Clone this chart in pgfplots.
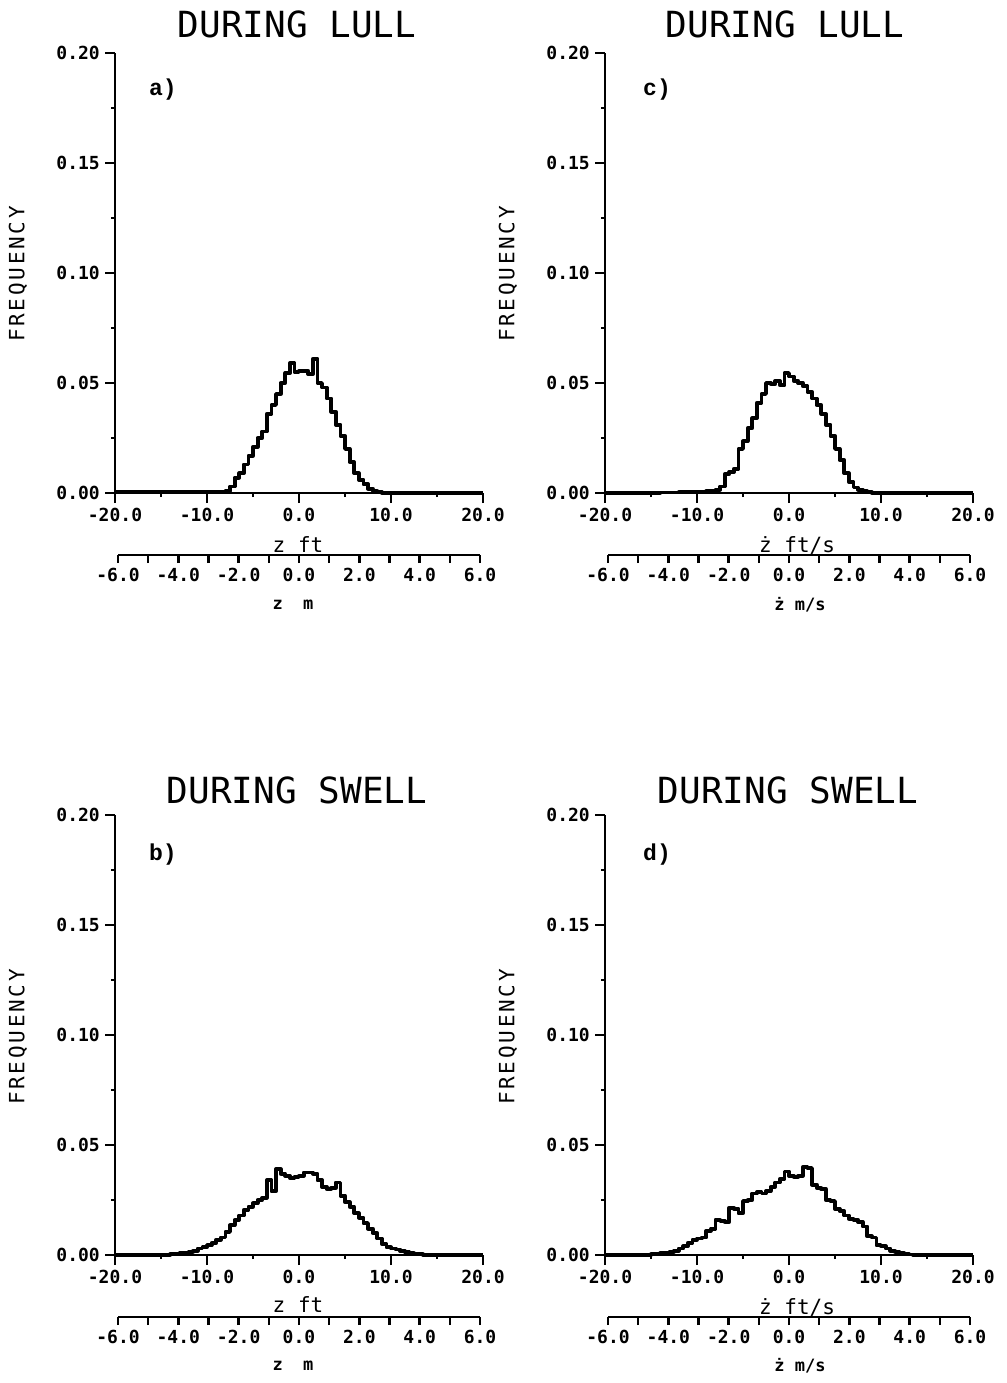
\documentclass[border=0pt]{standalone}
\usepackage{pgfplots}
\pgfplotsset{compat=1.18}
\usepackage{fontspec}
\setmainfont{DejaVu Sans Mono}
\newfontfamily\labelfont{Liberation Mono}

% Frequency histograms, 0.5 ft bins (left bin edge, relative frequency)
\pgfplotstableread{
x y
-20 0.0003
-8 0.001
-7.5 0.003
-7 0.007
-6.5 0.009
-6 0.013
-5.5 0.017
-5 0.021
-4.5 0.025
-4 0.028
-3.5 0.036
-3 0.040
-2.5 0.045
-2 0.050
-1.5 0.0545
-1 0.059
-0.5 0.055
0 0.0555
0.5 0.0555
1 0.054
1.5 0.061
2 0.050
2.5 0.048
3 0.043
3.5 0.037
4 0.031
4.5 0.026
5 0.020
5.5 0.014
6 0.009
6.5 0.006
7 0.004
7.5 0.002
8 0.001
8.5 0.0004
9 0
20 0
}\lullz

\pgfplotstableread{
x y
-20 0
-14 0.0002
-12 0.0004
-10 0.0006
-9 0.0008
-8.5 0.001
-8 0.0015
-7.5 0.003
-7 0.0085
-6.5 0.0095
-6 0.011
-5.5 0.020
-5 0.0235
-4.5 0.0295
-4 0.034
-3.5 0.041
-3 0.045
-2.5 0.050
-2 0.0495
-1.5 0.051
-1 0.049
-0.5 0.0545
0 0.053
0.5 0.051
1 0.050
1.5 0.0485
2 0.046
2.5 0.043
3 0.040
3.5 0.036
4 0.031
4.5 0.026
5 0.020
5.5 0.015
6 0.009
6.5 0.005
7 0.0025
7.5 0.0015
8 0.0008
8.5 0.0003
9 0
20 0
}\lullzdot

\pgfplotstableread{
x y
-20 0
-14 0.0003
-13.5 0.0005
-13 0.0008
-12.5 0.001
-12 0.0015
-11.5 0.002
-11 0.003
-10.5 0.0035
-10 0.0045
-9.5 0.0055
-9 0.007
-8.5 0.008
-8 0.0105
-7.5 0.0135
-7 0.016
-6.5 0.018
-6 0.0205
-5.5 0.022
-5 0.0235
-4.5 0.025
-4 0.026
-3.5 0.034
-3 0.029
-2.5 0.039
-2 0.037
-1.5 0.036
-1 0.035
-0.5 0.0355
0 0.036
0.5 0.0375
1 0.0375
1.5 0.037
2 0.034
2.5 0.031
3 0.030
3.5 0.0305
4 0.033
4.5 0.027
5 0.024
5.5 0.022
6 0.019
6.5 0.017
7 0.0145
7.5 0.012
8 0.010
8.5 0.0075
9 0.005
9.5 0.0035
10 0.003
10.5 0.0025
11 0.0018
11.5 0.0012
12 0.0008
12.5 0.0005
13 0.0003
13.5 0
20 0
}\swellz

\pgfplotstableread{
x y
-20 0
-15 0.0003
-14.5 0.0005
-14 0.0008
-13.5 0.001
-13 0.0015
-12.5 0.002
-12 0.003
-11.5 0.004
-11 0.0055
-10.5 0.007
-10 0.0075
-9.5 0.008
-9 0.011
-8.5 0.012
-8 0.016
-7.5 0.0155
-7 0.015
-6.5 0.0215
-6 0.021
-5.5 0.019
-5 0.0245
-4.5 0.025
-4 0.028
-3.5 0.0285
-3 0.028
-2.5 0.029
-2 0.031
-1.5 0.033
-1 0.0345
-0.5 0.038
0 0.036
0.5 0.0355
1 0.036
1.5 0.040
2 0.0395
2.5 0.032
3 0.0305
3.5 0.030
4 0.025
4.5 0.0245
5 0.021
5.5 0.020
6 0.018
6.5 0.0165
7 0.016
7.5 0.015
8 0.013
8.5 0.0085
9 0.008
9.5 0.0045
10 0.004
10.5 0.003
11 0.002
11.5 0.0015
12 0.001
12.5 0.0005
13 0.0002
13.5 0
20 0
}\swellzdot

\pgfplotsset{
  histaxis/.style={
    scale only axis, width=368pt, height=440pt,
    xmin=-20, xmax=20, ymin=0, ymax=0.2,
    axis x line=bottom, axis y line=left,
    axis line style={line width=2.8pt, -},
    xtick={-20,-10,0,10,20},
    xticklabels={-20.0,-10.0,0.0,10.0,20.0},
    minor xtick={-15,-5,5,15},
    ytick={0,0.05,0.1,0.15,0.2},
    yticklabels={0.00,0.05,0.10,0.15,0.20},
    minor ytick={0.025,0.075,0.125,0.175},
    tick align=outside, major tick length=10pt, minor tick length=4pt,
    every tick/.style={line width=2.5pt, black},
    tick label style={font=\fontsize{18}{18}\selectfont\bfseries, inner sep=0pt},
    xticklabel style={anchor=north, yshift=-5pt},
    yticklabel style={anchor=east, xshift=-5pt},
    clip=false,
  },
  maxis/.style={
    scale only axis, width=362pt, height=1pt,
    xmin=-6, xmax=6, ymin=0, ymax=1,
    axis x line=bottom, axis y line=none,
    axis line style={line width=2.8pt, -},
    xtick={-6,-5,...,6},
    xticklabels={-6.0,,-4.0,,-2.0,,0.0,,2.0,,4.0,,6.0},
    tick align=outside, major tick length=8pt,
    every tick/.style={line width=2.5pt, black},
    tick label style={font=\fontsize{18}{18}\selectfont\bfseries, inner sep=0pt},
    xticklabel style={anchor=north, yshift=-5pt},
  },
  hist/.style={const plot mark left, black, line width=3.8pt, line join=round, mark=none},
}

\newcommand\titlefont{\fontsize{36}{36}\selectfont}
\newcommand\freqlabel{\fontsize{21}{21}\selectfont\addfontfeature{LetterSpace=13}FREQUENCY}
\newcommand\unitfont{\fontsize{21}{21}\selectfont}
\newcommand\mfont{\fontsize{17}{17}\selectfont\bfseries}
\newcommand\panelfont{\labelfont\fontsize{23}{23}\selectfont\bfseries}

\begin{document}
\begin{tikzpicture}
\path[use as bounding box] (0,0) rectangle (1006pt,-1383pt);

% ---- a) displacement during lull
\begin{axis}[histaxis, at={(115pt,-493pt)}, anchor=south west]
  \addplot[hist] table[x=x,y=y] {\lullz};
\end{axis}
\begin{axis}[maxis, at={(118pt,-555pt)}, anchor=south west]
\end{axis}

% ---- c) velocity during lull
\begin{axis}[histaxis, at={(605pt,-493pt)}, anchor=south west]
  \addplot[hist] table[x=x,y=y] {\lullzdot};
\end{axis}
\begin{axis}[maxis, at={(608pt,-555pt)}, anchor=south west]
\end{axis}

% ---- b) displacement during swell
\begin{axis}[histaxis, at={(115pt,-1255pt)}, anchor=south west]
  \addplot[hist] table[x=x,y=y] {\swellz};
\end{axis}
\begin{axis}[maxis, at={(118pt,-1317pt)}, anchor=south west]
\end{axis}

% ---- d) velocity during swell
\begin{axis}[histaxis, at={(605pt,-1255pt)}, anchor=south west]
  \addplot[hist] table[x=x,y=y] {\swellzdot};
\end{axis}
\begin{axis}[maxis, at={(608pt,-1317pt)}, anchor=south west]
\end{axis}

% titles
\node at (297pt,-24pt) {\titlefont DURING LULL};
\node at (785pt,-24pt) {\titlefont DURING LULL};
\node at (297pt,-790pt) {\titlefont DURING SWELL};
\node at (788pt,-790pt) {\titlefont DURING SWELL};

% panel letters
\node at (163pt,-90pt) {\panelfont a)};
\node at (657pt,-90pt) {\panelfont c)};
\node at (163pt,-855pt) {\panelfont b)};
\node at (657pt,-855pt) {\panelfont d)};

% y axis titles
\node[rotate=90] at (18pt,-274pt) {\freqlabel};
\node[rotate=90] at (508pt,-274pt) {\freqlabel};
\node[rotate=90] at (18pt,-1037pt) {\freqlabel};
\node[rotate=90] at (508pt,-1037pt) {\freqlabel};

% unit labels
\node at (298pt,-545pt) {\unitfont z ft};
\node at (797pt,-545pt) {\unitfont ż ft/s};
\node at (298pt,-1305pt) {\unitfont z ft};
\node at (797pt,-1307pt) {\unitfont ż ft/s};
\node at (293pt,-605pt) {\mfont z~~m};
\node at (800pt,-605pt) {\mfont ż~m/s};
\node at (293pt,-1366pt) {\mfont z~~m};
\node at (800pt,-1366pt) {\mfont ż~m/s};
\end{tikzpicture}
\end{document}
